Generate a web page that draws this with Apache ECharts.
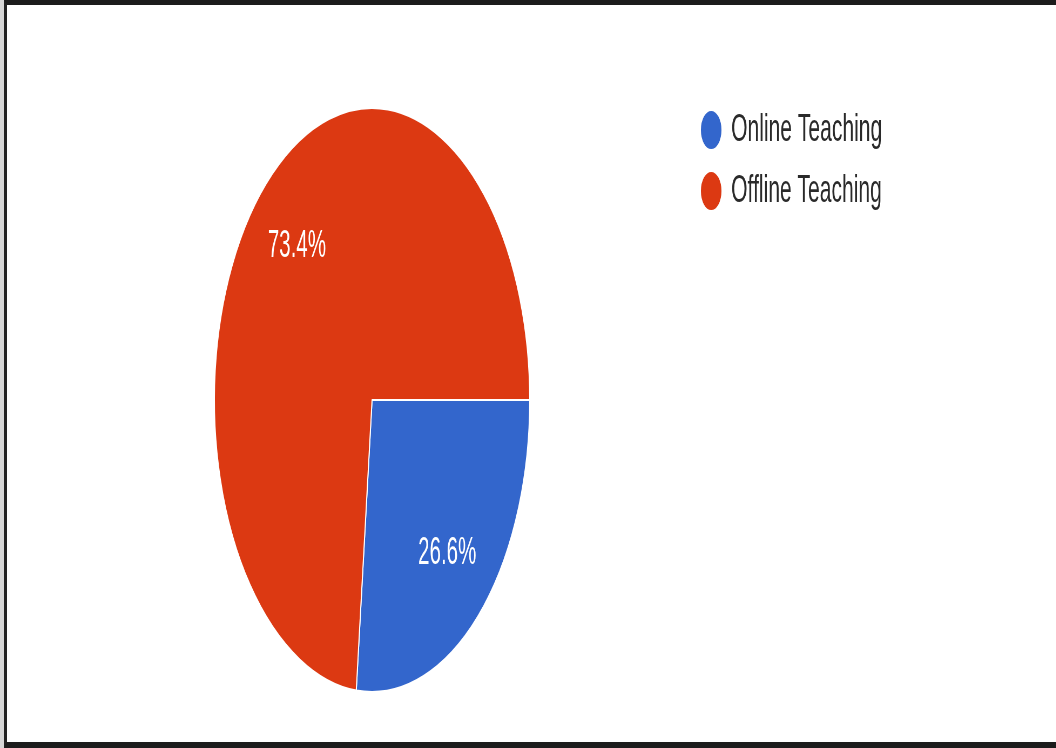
<!DOCTYPE html>
<html>
<head>
<meta charset="utf-8">
<script src="https://cdn.jsdelivr.net/npm/echarts@6/dist/echarts.min.js"></script>
<style>
html, body { margin: 0; padding: 0; width: 1056px; height: 748px; overflow: hidden; background: #d6d6d6; }
#frame {
    position: absolute; left: 4px; top: 0; width: 1060px; height: 737px;
    background: #fff;
    border-top: 5px solid #1c1c1c;
    border-left: 3px solid #222;
    border-bottom: 6px solid #1c1c1c;
}
/* the picture is squeezed sideways, so the chart is drawn wide and scaled back */
#main {
    position: absolute; left: 0; top: 0; width: 1956px; height: 748px;
    transform: scaleX(0.54); transform-origin: 0 0;
}
</style>
</head>
<body>
<div id="frame"></div>
<div id="main"></div>
<script>
var categories = ['Online Teaching', 'Offline Teaching'];
var shares = [26.6, 73.4];
var colors = ['#3366cc', '#dc3912'];

var pieData = categories.map(function (name, i) {
    return { name: name, value: shares[i] };
});

var chartDom = document.getElementById('main');
var myChart = echarts.init(chartDom);
var option = {
    animation: false,
    color: colors,
    legend: {
        orient: 'vertical',
        left: 1291,
        top: 104,
        itemWidth: 42,
        itemHeight: 40,
        itemGap: 19,
        icon: 'circle',
        textStyle: {
            color: '#2a2a2a',
            fontSize: 39,
            fontFamily: 'Liberation Sans, Arial, sans-serif',
            padding: [0, 0, 0, 11]
        },
        data: categories
    },
    series: [
        {
            name: 'share',
            type: 'pie',
            center: [689, 400],
            radius: [0, 292],
            startAngle: 0,
            clockwise: true,
            silent: true,
            label: { show: false },
            labelLine: { show: false },
            itemStyle: { borderColor: '#fff', borderWidth: 2 },
            data: pieData
        },
        {
            // transparent ring only to place the percent labels further out
            name: 'labels',
            type: 'pie',
            center: [689, 400],
            radius: [117, 292],
            startAngle: 0,
            clockwise: true,
            silent: true,
            legendHoverLink: false,
            itemStyle: { color: 'rgba(0,0,0,0)', borderWidth: 0 },
            label: {
                show: true,
                position: 'inside',
                color: '#fff',
                fontSize: 38,
                fontFamily: 'Liberation Sans, Arial, sans-serif',
                formatter: function (p) { return p.value.toFixed(1) + '%'; }
            },
            labelLine: { show: false },
            data: pieData
        }
    ]
};
option && myChart.setOption(option);
</script>
</body>
</html>
